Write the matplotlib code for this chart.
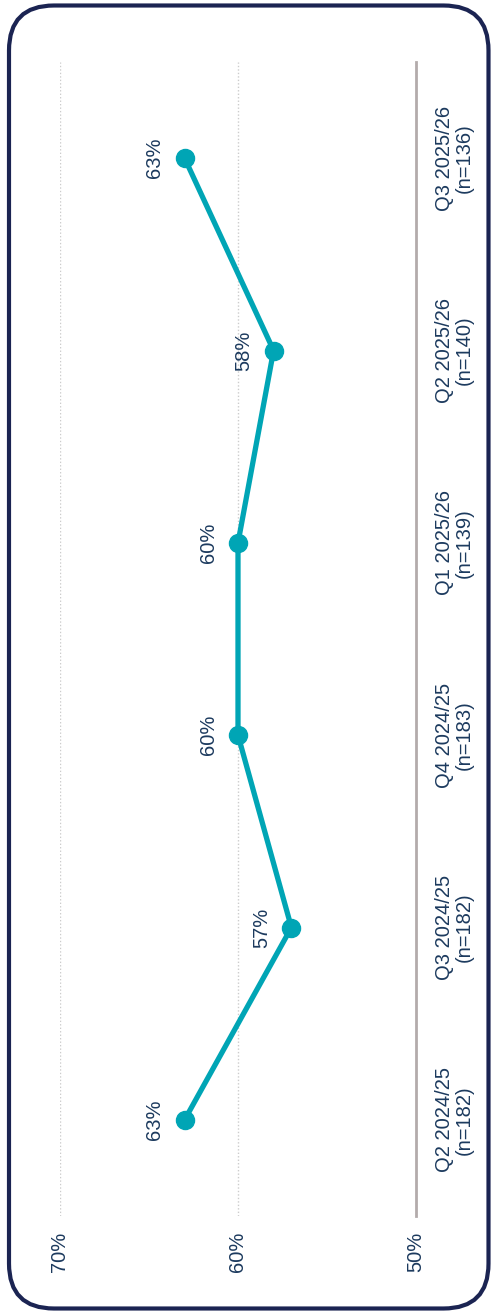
import matplotlib.pyplot as plt
from matplotlib.patches import FancyBboxPatch

plt.rcParams["font.family"] = ["Liberation Sans", "DejaVu Sans"]

quarters = ["Q2 2024/25", "Q3 2024/25", "Q4 2024/25", "Q1 2025/26", "Q2 2025/26", "Q3 2025/26"]
sample_sizes = [182, 182, 183, 139, 140, 136]
share = [63, 57, 60, 60, 58, 63]

TEAL = "#00a5b5"
NAVY = "#1c3a5e"
FRAME = "#1b2452"

W, H = 494, 1315
fig = plt.figure(figsize=(W / 100, H / 100), dpi=100)

# rounded frame drawn in pixel coordinates
bg = fig.add_axes([0, 0, 1, 1], zorder=-1)
bg.set_xlim(0, W)
bg.set_ylim(H, 0)
bg.axis("off")
bg.add_patch(FancyBboxPatch((9, 5.5), 479.5, 1303, boxstyle="round,pad=0,rounding_size=45",
                            facecolor="white", edgecolor=FRAME, linewidth=3))

# chart is laid out sideways: value runs right-to-left, quarters bottom-to-top
ax = fig.add_axes([60 / W, 99 / H, 356 / W, 1154 / H])
ax.patch.set_alpha(0)
pos = list(range(len(quarters)))
ax.plot(share, pos, color=TEAL, linewidth=3.8, marker="o", markersize=13, zorder=3,
        solid_capstyle="round")
for v, p in zip(share, pos):
    ax.annotate(f"{v}%", (v, p), xytext=(-21.5, 0), textcoords="offset points",
                rotation=90, ha="center", va="center", fontsize=14.5, color=NAVY)

ax.set_xlim(70, 50)
ax.set_ylim(-0.5, len(quarters) - 0.5)
ax.set_xticks([70, 60, 50])
ax.set_xticklabels(["70%", "60%", "50%"], rotation=90, fontsize=14.5, color=NAVY)
ax.set_yticks(pos)
ax.set_yticklabels([f"{q}\n(n={n})" for q, n in zip(quarters, sample_sizes)],
                   rotation=90, va="center", ha="left", multialignment="center",
                   fontsize=14.5, color=NAVY, linespacing=1.0)
ax.yaxis.tick_right()
ax.tick_params(axis="both", length=0)
ax.tick_params(axis="x", pad=11)
ax.tick_params(axis="y", pad=14)

for s in ["left", "top", "bottom"]:
    ax.spines[s].set_visible(False)
ax.spines["right"].set_color("#b3abab")
ax.spines["right"].set_linewidth(2)

for g in [70, 60]:
    ax.axvline(g, color="#cccccc", linestyle=(0, (1, 1.5)), linewidth=1, zorder=1)

fig.savefig("out.png", dpi=100)
